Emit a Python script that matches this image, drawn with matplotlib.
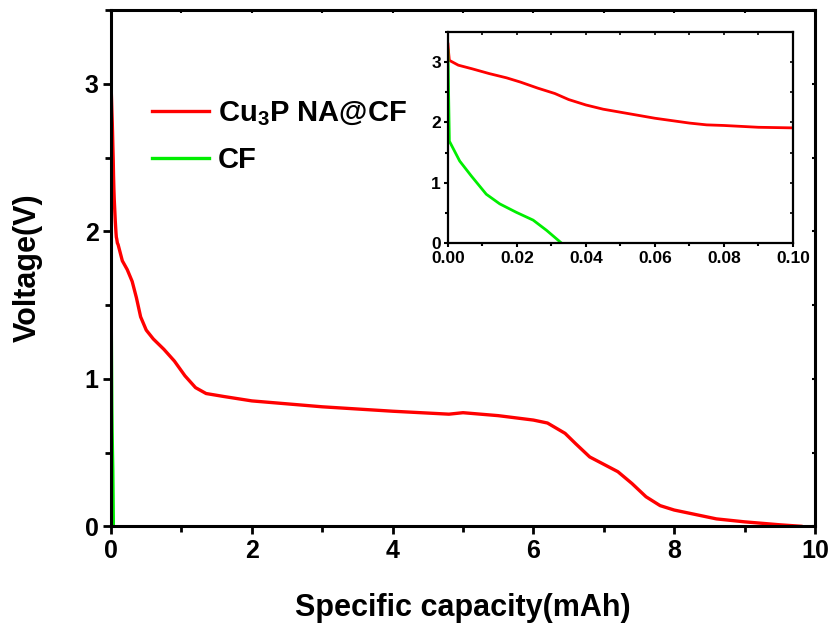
import matplotlib
matplotlib.use("Agg")
import matplotlib.pyplot as plt
from matplotlib.ticker import MultipleLocator, FormatStrFormatter

plt.rcParams["font.family"] = ["Liberation Sans", "DejaVu Sans"]
plt.rcParams["font.weight"] = "bold"
plt.rcParams["mathtext.fontset"] = "custom"
plt.rcParams["mathtext.rm"] = "Liberation Sans:bold"
plt.rcParams["mathtext.it"] = "Liberation Sans:bold"
plt.rcParams["mathtext.bf"] = "Liberation Sans:bold"

# Cu3P NA@CF discharge curve (capacity in mAh, voltage in V)
cu3p_cap = [0.0, 0.0002, 0.0004, 0.003, 0.007, 0.012, 0.017, 0.021, 0.026, 0.031,
            0.035, 0.040, 0.045, 0.050, 0.055, 0.060, 0.065, 0.070, 0.075, 0.080,
            0.090, 0.10, 0.16, 0.23, 0.30, 0.36, 0.42, 0.50, 0.60, 0.75, 0.90,
            1.05, 1.20, 1.35, 1.6, 2.0, 3.0, 4.0, 4.8, 5.0, 5.5, 6.0, 6.2, 6.45,
            6.6, 6.8, 7.0, 7.2, 7.4, 7.6, 7.8, 8.0, 8.3, 8.6, 9.0, 9.5, 9.8]
cu3p_volt = [3.3, 3.15, 3.03, 2.95, 2.89, 2.81, 2.74, 2.67, 2.57, 2.48,
             2.38, 2.29, 2.22, 2.17, 2.12, 2.07, 2.03, 1.99, 1.96, 1.95,
             1.92, 1.91, 1.8, 1.74, 1.66, 1.55, 1.42, 1.33, 1.27, 1.2, 1.12,
             1.02, 0.94, 0.9, 0.88, 0.85, 0.81, 0.78, 0.76, 0.77, 0.75, 0.72, 0.7, 0.63,
             0.56, 0.47, 0.42, 0.37, 0.29, 0.2, 0.14, 0.11, 0.08, 0.05, 0.03, 0.01, 0.0]

# bare CF discharge curve
cf_cap = [0.0, 0.0002, 0.0004, 0.0034, 0.0068, 0.0111, 0.015, 0.0198, 0.0247, 0.0286, 0.0329]
cf_volt = [3.2, 2.4, 1.69, 1.36, 1.11, 0.81, 0.65, 0.51, 0.38, 0.21, 0.0]

RED = "#ff0000"
GREEN = "#00ee00"


def add_inner_ticks(axis, xmaj, xmin, ymaj, ymin, length, width):
    # ticks on the top / right frame, pointing inward, no labels
    top = axis.secondary_xaxis("top")
    top.xaxis.set_major_locator(MultipleLocator(xmaj))
    top.xaxis.set_minor_locator(MultipleLocator(xmin))
    top.tick_params(which="both", direction="in", length=length, width=width,
                    labeltop=False)
    right = axis.secondary_yaxis("right")
    right.yaxis.set_major_locator(MultipleLocator(ymaj))
    right.yaxis.set_minor_locator(MultipleLocator(ymin))
    right.tick_params(which="both", direction="in", length=length, width=width,
                      labelright=False)
    for s in (top, right):
        for sp in s.spines.values():
            sp.set_visible(False)


fig = plt.figure(figsize=(8.35, 6.28), dpi=100)
ax = fig.add_axes([0.133, 0.162, 0.843, 0.822])

ax.plot(cu3p_cap, cu3p_volt, color=RED, lw=2.4, label="Cu$_3$P NA@CF")
ax.plot(cf_cap, cf_volt, color=GREEN, lw=2.4, label="CF")

ax.set_xlim(0, 10)
ax.set_ylim(0, 3.5)
ax.xaxis.set_major_locator(MultipleLocator(2))
ax.xaxis.set_minor_locator(MultipleLocator(1))
ax.yaxis.set_major_locator(MultipleLocator(1))
ax.yaxis.set_minor_locator(MultipleLocator(0.5))
ax.tick_params(which="both", direction="out", width=2, labelsize=18)
ax.tick_params(which="major", length=6, pad=3)
ax.tick_params(which="minor", length=4)
for sp in ax.spines.values():
    sp.set_linewidth(2.2)
add_inner_ticks(ax, 2, 1, 1, 0.5, 2, 1.5)
ax.set_xlabel("Specific capacity(mAh)", fontsize=22, fontweight="bold", labelpad=22)
ax.set_ylabel("Voltage(V)", fontsize=22, fontweight="bold", labelpad=30)

ax.legend(loc="upper left", bbox_to_anchor=(0.042, 0.849), frameon=False,
          fontsize=21, handlelength=1.95, handletextpad=0.3, labelspacing=0.6,
          borderaxespad=0)

# inset zoom on the first 0.1 mAh
ins = fig.add_axes([0.5365, 0.613, 0.413, 0.336])
ins.plot(cu3p_cap, cu3p_volt, color=RED, lw=2.0)
ins.plot(cf_cap, cf_volt, color=GREEN, lw=2.0)
ins.set_xlim(0, 0.1)
ins.set_ylim(0, 3.5)
ins.xaxis.set_major_locator(MultipleLocator(0.02))
ins.xaxis.set_minor_locator(MultipleLocator(0.01))
ins.yaxis.set_major_locator(MultipleLocator(1))
ins.yaxis.set_minor_locator(MultipleLocator(0.5))
ins.xaxis.set_major_formatter(FormatStrFormatter("%.2f"))
ins.tick_params(which="both", direction="out", width=1.5, labelsize=12.5)
ins.tick_params(which="major", length=3)
ins.tick_params(which="minor", length=2)
ins.tick_params(axis="x", pad=3)
ins.tick_params(axis="y", pad=2)
for sp in ins.spines.values():
    sp.set_linewidth(1.6)
add_inner_ticks(ins, 0.02, 0.01, 1, 0.5, 2, 1.2)

fig.savefig("out.png", dpi=100)
